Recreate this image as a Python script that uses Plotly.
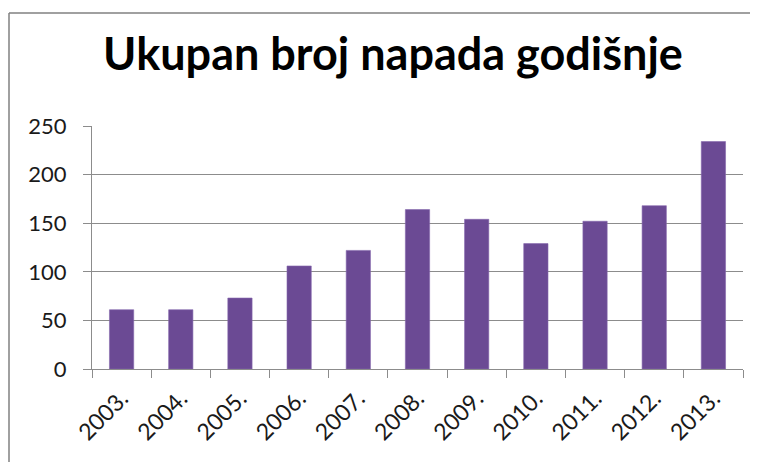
import plotly.graph_objects as go

years = ["2003.", "2004.", "2005.", "2006.", "2007.", "2008.", "2009.", "2010.", "2011.", "2012.", "2013."]
attacks = [61, 61, 73, 106, 122, 164, 154, 129, 152, 168, 234]
y_ticks = [0, 50, 100, 150, 200, 250]
title_text = "Ukupan broj napada godišnje"

# the page shows the figure offset by the default 8px body margin
W, H = 758, 462
L, R, T, B = 84, 23, 118, 101

PW, PH = W - L - R, H - T - B

fig = go.Figure()
fig.add_trace(go.Bar(
    x=years, y=attacks,
    marker=dict(color="#6B4A94", line=dict(color="#8467AD", width=0.6)),
    width=0.41,
))

fig.update_layout(
    width=W, height=H,
    margin=dict(l=L, r=R, t=T, b=B, autoexpand=False),
    paper_bgcolor="white", plot_bgcolor="white",
    showlegend=False,
    title=dict(text=title_text, x=385 / W, xref="container", xanchor="center",
               y=1 - 46 / H, yref="container", yanchor="middle",
               font=dict(family="Lato", size=45, color="black", weight="bold")),
    font=dict(family="Lato", color="#1a1a1a"),
)

fig.update_xaxes(
    type="category", tickangle=-45, tickson="boundaries",
    ticks="outside", ticklen=8, tickcolor="#8c8c8c", tickwidth=1,
    showline=True, linecolor="#8c8c8c", linewidth=1,
    showgrid=False, tickfont=dict(size=23, color="#1a1a1a"),
    range=[-0.5, 10.5], automargin=False, ticklabelstandoff=6,
)
fig.update_yaxes(
    range=[0, 250], tickvals=y_ticks,
    showgrid=True, gridcolor="#8c8c8c", gridwidth=1,
    showline=True, linecolor="#8c8c8c", linewidth=1,
    ticks="outside", ticklen=8, tickcolor="#8c8c8c",
    tickfont=dict(size=22, color="#1a1a1a"), zeroline=False,
    ticklabelstandoff=12, automargin=False,
)

# chart frame (top and left border)
top = 1 + (T - 5) / PH
left = (1 - L) / PW
fig.add_shape(type="line", xref="paper", yref="paper",
              x0=left, x1=(W - L) / PW, y0=top, y1=top,
              line=dict(color="#808080", width=1.5))
fig.add_shape(type="line", xref="paper", yref="paper",
              x0=left, x1=left, y0=-B / PH, y1=top,
              line=dict(color="#808080", width=1.5))

fig.write_html("out.html")
